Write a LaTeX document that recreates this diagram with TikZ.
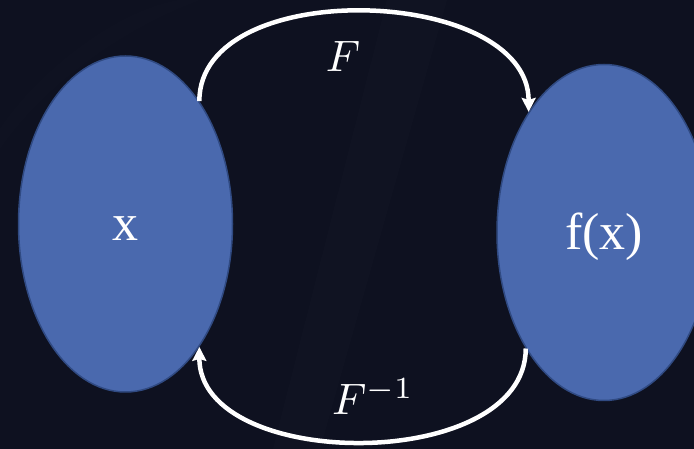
\documentclass[tikz,border=0pt]{standalone}
\usepackage{fontspec}
\setmainfont{Liberation Serif}
\usetikzlibrary{shapes.geometric,arrows.meta}
\definecolor{bg}{RGB}{14,17,32}
\definecolor{bgband}{RGB}{22,25,40}
\definecolor{blobfill}{RGB}{74,105,174}
\definecolor{blobline}{RGB}{48,74,130}
\tikzset{
  blob/.style={ellipse, fill=blobfill, draw=blobline, line width=1.5pt,
    minimum width=214pt, minimum height=336pt, inner sep=0pt,
    text=white, font=\fontsize{52}{60}\selectfont,
    text height=46pt, text depth=12pt},
  maparrow/.style={draw=white, line width=4.5pt,
    -{Stealth[length=14pt,width=14pt,inset=2pt]}},
  maplabel/.style={text=white, font=\normalsize, scale=4.4, inner sep=0pt}
}
\begin{document}
\begin{tikzpicture}[x=1pt,y=1pt]
  \fill[bg] (0,0) rectangle (694,449);
  \useasboundingbox (0,0) rectangle (694,449);
  % faint background bands
  \fill[bgband, opacity=0.35] (387,449) -- (447,449) -- (320,0) -- (273,0) -- cycle;
  \fill[bgband, opacity=0.2] (0,320) .. controls (40,380) and (120,440) .. (180,449) -- (200,449) .. controls (120,420) and (40,360) .. (0,300) -- cycle;
  % ellipses
  \node[blob] (L) at (125.5,225) {x};
  \node[blob] (R) at (604,216.5) {f(x)};
  % connectors
  \draw[maparrow] (L.59) to[out=90,in=90,looseness=0.98] (R.122);
  \draw[maparrow] (R.236) to[out=-90,in=-90,looseness=0.98] (L.301);
  % labels
  \node[maplabel] (lF) at (343,393) {$F$};
  \node[maplabel] (lFi) at (373,52) {$F^{-1}$};
\end{tikzpicture}
\end{document}
